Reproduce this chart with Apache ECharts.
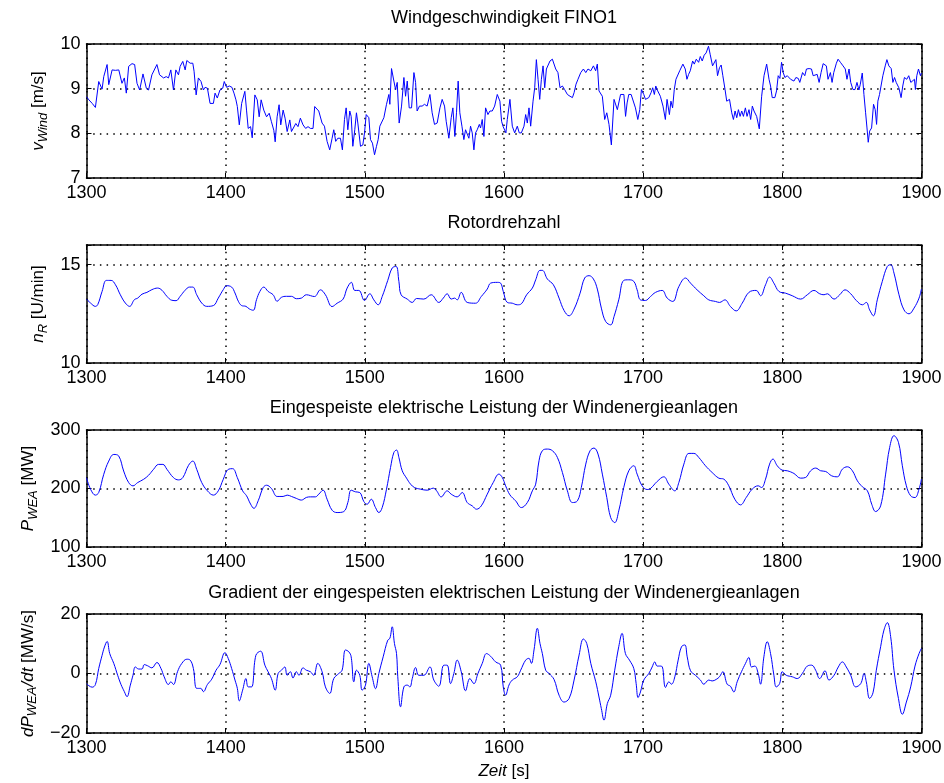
<!DOCTYPE html>
<html>
<head>
<meta charset="utf-8">
<script src="https://cdn.jsdelivr.net/npm/echarts@6/dist/echarts.min.js"></script>
<style>
  html, body { margin: 0; padding: 0; background: #fff; }
  #main { width: 944px; height: 783px; }
</style>
</head>
<body>
<div id="main"></div>
<script>
// Windgeschwindigkeit FINO1 [m/s]
const windTime = [
  1300.0,1301.7,1304.1,1306.4,1308.8,1311.2,1312.4,1314.8,1316.0,1318.4,
  1320.8,1323.2,1325.5,1327.2,1328.6,1330.3,1332.7,1334.6,1336.3,1338.2,
  1340.6,1343.0,1344.6,1347.0,1350.6,1352.5,1355.4,1357.3,1358.9,1360.6,
  1362.5,1364.2,1366.1,1367.3,1369.2,1370.9,1372.1,1374.5,1376.4,1377.3,
  1378.8,1380.4,1382.3,1384.0,1385.2,1386.9,1388.8,1391.2,1392.4,1394.0,
  1395.9,1397.9,1399.0,1400.7,1402.6,1404.5,1406.0,1407.4,1408.4,1409.8,
  1411.5,1413.8,1415.0,1416.2,1417.9,1419.1,1421.0,1422.7,1424.1,1425.5,
  1427.4,1429.4,1431.3,1432.9,1434.6,1435.6,1437.0,1438.4,1439.6,1441.3,
  1442.7,1444.2,1446.1,1447.3,1448.4,1450.4,1452.0,1453.7,1455.6,1457.5,
  1459.2,1460.9,1462.8,1464.0,
  1466.9,1469.3,1471.0,1472.9,1474.8,1476.5,1477.7,1479.1,1480.6,1482.5,
  1483.9,1485.4,1486.6,1487.8,1489.2,1490.2,1491.4,1492.8,1494.0,1495.0,
  1496.9,1498.6,1499.8,1501.0,1502.9,1504.1,1505.5,1507.0,1508.4,1509.6,
  1510.8,1512.0,1513.7,1515.6,1517.3,1518.0,1519.2,1520.9,1522.1,1523.3,
  1524.7,1526.4,1528.1,1529.3,1530.5,1531.9,1533.6,1535.3,1536.5,1537.6,
  1539.3,1541.2,1542.9,1544.8,1546.8,1548.4,1550.1,1552.0,1554.0,1555.6,
  1557.3,1558.5,1560.4,1562.1,1563.3,1564.7,1565.9,1567.1,1568.3,1569.8,
  1571.2,1572.4,1573.6,1574.8,1576.0,1577.2,1578.4,1579.6,1580.8,1582.3,
  1583.2,1584.4,1585.6,1586.8,1588.5,1589.9,1591.6,1593.3,1595.2,1597.1,
  1598.3,1599.3,1600.5,1601.4,1602.4,1604.3,1606.0,1607.7,1609.6,1611.0,
  1612.5,1614.4,1615.6,1616.8,1618.0,1619.2,1620.9,1622.1,1623.3,1624.5,
  1625.7,1626.9,1628.1,1629.3,1630.5,1631.7,1633.1,1634.8,1636.0,1637.2,
  1638.8,1640.3,1642.0,1643.6,1645.6,1647.5,1649.2,1650.4,1651.8,1653.2,
  1655.2,1657.1,1658.8,1660.4,1662.4,1664.3,1665.9,1667.1,1668.3,1670.7,
  1672.4,1673.9,1675.5,1677.2,1679.1,1681.5,
  1683.8,1686.2,1687.4,1688.5,1689.7,1691.4,1692.8,1694.5,1696.2,1697.6,
  1698.8,1700.5,1701.7,1704.1,1705.7,1706.9,1708.1,1709.1,1710.5,1712.4,
  1714.3,1716.0,1717.2,1718.9,1720.0,1721.2,1722.4,1723.6,1724.8,1726.3,
  1727.4,1728.6,1730.3,1731.5,1732.7,1733.9,1735.6,1736.8,1738.2,1739.9,
  1741.1,1742.5,1743.9,1745.3,1747.0,1748.2,1749.9,1751.1,1752.3,1753.5,
  1754.9,1756.1,1757.3,1758.9,1760.1,1762.1,1763.7,1764.9,1766.1,1767.3,
  1768.5,1769.7,1770.9,1772.1,1773.5,1774.7,1776.1,1777.3,1778.5,1779.7,
  1781.6,1783.5,1785.2,1786.9,1788.8,1790.5,1791.6,1792.8,1794.7,1795.9,
  1797.1,1798.3,1799.5,1800.7,1801.9,1803.6,1804.8,1806.0,1807.4,1808.4,
  1809.8,1811.5,1812.6,1814.6,1816.2,1817.4,1819.3,1821.0,1822.2,1823.4,
  1825.1,1826.5,1827.9,1829.4,1830.5,1831.7,1832.9,1834.6,1835.8,1837.0,
  1838.9,1840.1,1841.8,1843.7,1845.3,1846.5,1848.0,1849.2,1850.8,1852.3,
  1853.7,1855.1,1856.1,1857.5,1858.7,1859.9,1860.9,1861.8,1862.8,1864.2,
  1865.6,1866.8,1867.8,1868.7,1869.9,1871.1,1872.3,1874.0,1875.2,1876.6,
  1878.3,1879.5,1880.7,1881.9,1883.8,1885.4,1886.6,1887.8,1889.5,1890.9,
  1892.4,1893.8,1895.0,1895.7,1896.7,1897.9,1899.3,1900.0
];
const windSpeed = [
  8.82,8.75,8.67,8.58,9.16,8.99,9.27,9.54,9.09,9.42,
  9.41,9.42,9.12,9.24,8.90,9.50,9.56,9.54,9.12,8.97,
  9.33,9.01,8.97,9.31,9.54,9.31,9.24,9.27,9.24,9.42,
  8.97,9.42,9.31,9.50,9.61,9.42,9.63,9.57,9.57,9.39,
  8.86,9.24,9.16,8.97,9.03,9.01,8.67,8.67,8.90,8.79,
  8.97,9.01,9.16,9.03,9.06,9.03,8.90,8.75,8.60,8.19,
  8.67,8.94,8.52,8.11,8.15,7.90,8.86,8.75,8.37,8.75,
  8.52,8.37,8.45,8.26,8.07,7.81,8.37,8.64,8.19,8.52,
  8.34,8.04,8.30,8.04,8.07,8.22,8.15,8.34,8.19,8.11,
  8.15,8.11,8.11,8.60,
  8.50,8.23,8.16,7.82,7.63,7.89,8.08,7.82,7.89,7.89,
  7.63,8.31,8.57,8.08,8.50,8.38,7.71,8.08,8.46,8.23,
  7.71,7.74,8.01,8.42,8.35,7.86,7.78,7.52,7.71,7.86,
  8.16,8.12,8.35,8.65,8.87,8.65,9.45,9.17,8.98,9.14,
  8.23,8.61,9.25,8.83,9.17,8.57,8.57,9.36,9.14,8.50,
  8.61,8.61,8.65,8.61,8.87,8.46,8.20,8.23,8.57,8.76,
  8.61,8.27,7.89,8.35,8.57,7.93,8.46,9.17,8.46,8.16,
  7.86,8.08,8.08,7.89,8.16,8.01,7.63,8.01,8.08,8.20,
  8.12,8.31,7.93,8.57,8.42,8.50,8.50,8.61,8.87,8.72,
  8.27,8.16,8.20,8.01,8.31,8.76,8.16,8.01,8.16,8.01,
  8.01,8.16,8.42,8.23,8.57,8.16,8.72,9.02,9.65,9.21,
  8.76,9.21,9.51,9.02,9.44,9.40,9.62,9.66,9.62,9.44,
  9.36,9.02,9.06,8.98,8.87,8.83,8.80,8.91,9.10,9.21,
  9.36,9.44,9.36,9.44,9.40,9.51,9.40,9.55,8.95,8.83,
  8.31,8.46,8.20,7.74,8.76,8.53,
  8.87,8.87,8.38,8.68,8.87,8.87,8.91,8.57,8.31,8.53,
  8.98,8.87,8.76,8.80,8.91,9.02,8.87,9.06,8.95,8.83,
  8.61,8.31,8.76,8.42,8.72,8.57,8.98,9.21,9.25,9.40,
  9.36,9.55,9.44,9.21,9.32,9.40,9.62,9.55,9.66,9.59,
  9.72,9.62,9.75,9.80,9.95,9.77,9.51,9.50,9.65,9.29,
  9.47,9.53,9.29,8.98,8.72,8.76,8.46,8.31,8.50,8.35,
  8.53,8.38,8.50,8.38,8.57,8.38,8.53,8.31,8.61,8.50,
  8.38,8.10,8.83,9.29,9.55,9.21,9.06,8.80,8.80,8.95,
  9.29,9.23,9.59,9.36,9.25,9.29,9.29,9.21,9.25,9.17,
  9.25,9.23,9.14,9.36,9.29,9.44,9.45,9.44,9.29,9.32,
  9.32,9.14,9.36,9.56,9.56,9.51,9.21,9.36,9.14,9.36,
  9.57,9.66,9.59,9.51,9.44,9.21,9.44,9.14,8.98,8.98,
  9.14,8.97,9.10,9.35,8.87,8.46,8.12,7.80,8.05,8.12,
  8.65,8.53,8.20,8.72,8.87,8.91,9.29,9.51,9.65,9.51,
  9.45,9.14,9.25,9.14,9.02,8.80,9.06,9.25,9.21,9.29,
  9.14,9.17,9.21,8.98,9.29,9.44,9.29,9.35
];

// Rotordrehzahl [U/min]
const rpmTime = [
  1300.0,1302.9,1306.4,1308.1,1311.2,1314.3,1317.7,1320.8,1324.3,1327.9,
  1331.0,1334.4,1336.8,1339.9,1343.4,1347.0,1351.1,1354.2,1357.8,1361.3,
  1364.4,1367.3,1370.9,1374.0,1376.4,1379.2,1382.8,1386.4,1391.2,1394.7,
  1398.3,1400.7,1404.3,1406.7,1409.1,1411.5,1414.6,1417.0,1419.8,1422.2,
  1424.6,1427.4,1430.5,1434.1,1437.0,1440.1,1443.7,1447.3,1450.8,1454.4,
  1458.0,
  1463.8,1468.1,1471.7,1476.5,1480.1,1484.4,1487.3,1490.4,1492.8,1495.7,
  1499.8,1503.6,1506.5,1509.6,1512.5,1516.5,1519.7,1522.5,1524.5,1526.1,
  1530.5,1534.1,1537.2,1542.4,1547.7,1553.2,1556.4,1559.2,1562.1,1564.5,
  1566.4,1569.3,1573.6,1579.6,1583.7,1588.0,1590.4,1595.2,1597.6,1599.5,
  1602.4,1606.0,1609.6,1612.5,1616.3,1620.4,1622.8,1625.9,1627.6,1631.2,
  1635.5,1639.6,1643.2,1646.8,1650.4,1654.7,1658.0,1661.2,1664.3,1667.1,
  1670.0,1673.1,1676.7,1679.1,
  1682.5,1686.1,1689.7,1693.3,1695.7,1698.1,1701.7,1705.3,1708.9,1713.7,
  1717.3,1721.3,1725.7,1730.5,1734.1,1738.8,1743.6,1747.2,1752.0,1754.9,
  1758.8,1762.8,1766.9,1771.2,1776.0,1781.3,1784.4,1788.0,1790.9,1794.0,
  1797.6,1802.4,1807.2,1813.2,1818.0,1822.8,1826.9,1830.0,1832.4,1837.2,
  1841.3,1845.1,1849.2,1853.2,1857.6,1860.4,1862.8,1865.5,1868.3,1871.9,
  1875.5,1877.9,1880.3,1883.9,1887.5,1891.1,1894.7,1898.3,1900.0
];
const rpmValue = [
  13.25,13.05,12.88,12.97,13.64,14.20,14.20,13.98,13.47,13.05,
  12.88,13.22,13.30,13.50,13.59,13.73,13.81,13.70,13.39,13.19,
  13.17,13.39,13.70,13.86,13.86,13.47,13.05,12.88,12.92,13.30,
  13.73,13.93,13.86,13.56,13.14,12.92,12.88,12.75,12.68,13.22,
  13.64,13.86,13.64,13.47,13.14,13.34,13.39,13.39,13.27,13.30,
  13.47,
  13.38,13.72,13.47,12.87,13.04,13.25,13.81,14.10,13.69,13.69,
  13.18,13.52,13.21,12.96,13.38,14.20,14.83,14.91,14.15,13.47,
  13.25,13.08,13.28,13.25,13.47,13.08,13.30,13.52,13.25,13.30,
  13.21,13.59,13.08,13.04,13.38,13.76,14.06,14.10,14.06,13.64,
  13.08,13.04,12.96,13.01,13.47,13.81,14.23,14.71,14.71,14.27,
  13.98,13.30,12.67,12.40,12.74,13.55,14.32,14.44,14.27,13.76,
  12.79,12.11,11.94,12.36,
  13.21,14.20,14.23,14.15,13.72,13.21,13.18,13.38,13.59,13.69,
  13.30,13.13,13.89,14.32,14.06,13.72,13.42,13.21,13.13,13.08,
  13.21,12.87,12.65,13.04,13.59,13.69,13.42,13.98,14.37,14.06,
  13.64,13.55,13.42,13.25,13.47,13.69,13.52,13.47,13.52,13.25,
  13.47,13.72,13.52,13.18,12.96,13.08,12.70,12.40,13.21,14.15,
  14.91,15.00,14.57,13.47,12.70,12.50,12.79,13.30,13.76
];

// Eingespeiste elektrische Leistung [MW]
const powerTime = [
  1300.0,1302.9,1306.4,1308.8,1312.4,1316.0,1319.6,1323.2,1326.7,1330.3,
  1333.4,1336.8,1341.1,1344.6,1348.2,1351.8,1354.9,1357.8,1362.5,1366.1,
  1369.2,1373.3,1376.4,1379.2,1382.8,1386.9,1391.2,1394.7,1398.3,1401.9,
  1405.0,1408.4,1412.2,1415.0,1417.9,1420.3,1423.4,1427.0,1429.4,1432.9,
  1437.0,1441.3,1444.2,1447.3,1450.8,1454.4,1458.0,
  1460.9,1464.5,1466.9,1470.0,1472.9,1476.5,1480.1,1484.9,1487.8,1490.2,
  1493.3,1496.4,1499.3,1501.7,1504.6,1507.7,1510.1,1512.5,1515.6,1518.5,
  1520.9,1522.8,1524.5,1526.9,1530.0,1532.9,1535.7,1540.0,1544.8,1549.2,
  1551.6,1554.9,1559.2,1562.1,1566.4,1570.0,1573.6,1577.2,1580.3,1583.7,
  1588.0,1592.3,1596.4,1598.8,1601.2,1604.3,1608.4,1612.5,1616.8,1620.4,
  1622.8,1625.2,1627.6,1631.2,1634.8,1638.4,1642.0,1645.6,1649.2,1652.8,
  1655.6,1658.8,1661.9,1664.7,1667.6,1670.7,1673.9,1676.7,1679.6,
  1682.5,1686.1,1689.7,1693.3,1695.7,1699.3,1702.9,1705.3,1710.1,1714.9,
  1718.5,1722.8,1725.7,1729.3,1732.9,1736.5,1740.0,1744.8,1749.6,1754.4,
  1758.0,1761.6,1765.9,1770.0,1774.1,1778.4,1782.7,1785.1,1788.0,1790.9,
  1793.3,1796.4,1800.0,1803.6,1808.4,1813.2,1816.8,1820.4,1824.0,1827.6,
  1831.2,1835.5,1839.6,1843.2,1846.8,1850.4,1854.0,1857.6,1861.2,1864.3,
  1867.1,1870.7,1874.3,1877.2,1880.3,1883.5,1886.3,1889.2,1892.3,1895.4,
  1898.3,1900.0
];
const powerValue = [
  218.6,198.9,188.7,193.2,224.3,246.9,258.2,255.4,229.9,210.2,
  204.5,210.2,215.8,222.6,232.8,241.2,241.2,232.8,218.6,214.7,
  218.6,239.5,246.9,232.8,210.2,196.0,188.7,196.0,215.8,232.8,
  233.9,218.6,196.0,187.6,173.4,166.1,179.1,201.7,205.6,200.0,
  186.4,186.4,188.7,186.4,183.1,180.2,184.7,
  185.7,185.7,190.3,197.1,181.7,162.9,158.9,160.6,176.0,197.1,
  194.3,193.1,177.7,173.1,181.7,167.4,158.9,167.4,198.9,236.0,
  261.7,265.7,253.1,230.3,217.7,207.4,201.7,198.9,197.1,200.6,
  196.0,185.7,196.0,190.3,185.7,193.1,176.0,170.3,164.6,170.3,
  190.3,210.3,224.6,218.9,204.6,189.1,178.9,167.4,176.0,196.0,
  207.4,247.4,264.6,267.4,264.6,253.1,227.4,196.0,176.0,178.9,
  201.7,241.7,264.6,269.1,258.9,224.6,184.6,150.3,141.7,
  161.7,201.7,230.3,238.9,224.6,204.6,198.3,200.0,212.0,220.0,
  207.4,196.0,210.3,241.7,260.0,260.0,253.1,238.9,227.4,217.7,
  216.0,204.6,181.7,172.0,184.6,198.9,204.6,201.7,216.0,241.7,
  250.3,238.9,231.4,230.3,225.7,217.7,218.9,230.3,234.9,230.3,
  229.1,221.7,220.0,233.1,237.1,230.3,213.1,202.9,196.0,173.1,
  160.6,170.3,224.6,270.3,290.3,278.9,238.9,204.6,187.4,184.6,
  198.9,216.0
];

// Gradient der eingespeisten Leistung [MW/s]
const gradTime = [
  1300.0,1301.7,1304.1,1306.4,1308.8,1311.2,1312.9,1314.8,1316.7,1319.6,
  1322.4,1324.8,1327.2,1329.1,1331.5,1333.4,1335.1,1337.5,1339.9,1341.5,
  1343.9,1347.0,1350.6,1353.5,1355.8,1358.9,1360.6,1362.5,1365.4,1368.5,
  1372.1,1374.5,1376.8,1379.2,1382.1,1384.0,1386.9,1390.0,1393.1,1395.9,
  1399.5,1401.9,1404.3,1406.7,1408.4,1409.8,1412.2,1414.6,1416.2,1418.6,
  1421.7,1425.1,1428.2,1430.5,1432.9,1435.6,1437.7,1440.1,1442.5,1444.2,
  1446.5,1448.4,1450.8,1452.7,1455.6,1458.0,
  1460.9,1463.3,1466.2,1469.3,1471.7,1474.8,1477.7,1481.3,1483.7,1486.1,
  1488.5,1490.2,1492.1,1494.0,1496.4,1498.1,1500.5,1502.9,1505.3,1507.7,
  1510.1,1513.2,1516.5,1518.0,1519.7,1521.3,1522.8,1523.7,1525.7,1528.1,
  1530.5,1532.4,1534.1,1536.5,1538.8,1542.4,1546.8,1549.6,1553.2,1556.8,
  1559.2,1561.6,1564.0,1566.4,1569.3,1572.4,1575.5,1578.4,1581.3,1584.4,
  1587.5,1590.4,1594.0,1597.6,1599.5,1601.2,1603.6,1606.0,1609.6,1612.0,
  1615.6,1618.0,1619.7,1621.6,1624.0,1625.9,1627.6,1630.0,1632.4,1636.0,
  1639.6,1643.2,1646.8,1650.4,1654.0,1657.1,1659.5,1662.4,1666.0,1668.3,
  1670.0,1671.9,1674.3,1676.7,1679.6,
  1682.5,1684.9,1687.3,1690.2,1693.3,1695.0,1696.4,1698.1,1700.5,1704.1,
  1706.5,1708.4,1710.1,1713.2,1716.1,1718.5,1720.4,1722.8,1725.2,1727.6,
  1730.0,1731.7,1734.1,1737.6,1741.2,1743.6,1747.2,1749.6,1752.5,1754.9,
  1757.3,1760.4,1762.8,1765.2,1767.6,1770.7,1773.6,1776.0,1777.9,1780.3,
  1782.7,1784.4,1786.8,1789.2,1791.6,1794.0,1795.7,1798.1,1800.0,1802.9,
  1807.2,1810.8,1814.4,1818.0,1821.1,1824.0,1826.9,1830.7,1833.6,1837.2,
  1840.3,1843.2,1846.0,1849.2,1852.8,1856.4,1858.8,1860.4,1862.8,1865.2,
  1867.6,1870.7,1873.1,1875.5,1877.9,1880.3,1883.5,1886.3,1889.2,1892.3,
  1895.4,1898.3,1900.0
];
const gradValue = [
  -3.4,-4.1,-4.6,-3.7,1.7,6.1,8.9,10.8,6.7,3.4,
  -0.6,-3.7,-6.1,-7.8,-3.9,-0.6,2.2,1.5,1.5,3.0,
  2.6,1.9,3.7,1.7,-1.1,-3.7,-2.8,-3.7,0.6,3.4,
  4.8,4.5,1.7,-5.0,-5.0,-6.1,-3.7,-1.9,1.1,3.0,
  7.0,5.0,1.7,-2.2,-5.0,-9.2,-5.6,-1.7,-4.5,-4.5,
  6.1,7.5,2.8,0.6,-1.7,-5.6,0.0,1.1,2.2,-0.6,
  0.6,-1.5,0.6,-0.6,1.9,1.1,
  0.6,-0.6,3.4,0.6,-4.5,-6.7,-1.7,0.0,1.1,7.9,
  7.3,5.6,-2.8,1.1,-0.6,-5.6,-3.9,3.4,-1.1,-5.1,
  0.0,5.6,11.2,11.8,15.7,10.1,6.7,-1.1,-11.2,-4.5,
  -3.9,-4.5,-1.7,2.0,-0.6,-0.6,2.2,-2.2,-4.3,2.8,
  2.8,-3.4,0.0,4.5,0.6,-5.8,-1.7,-3.4,0.0,3.4,
  6.7,5.8,3.9,2.8,-4.5,-7.3,-3.9,-2.2,-1.1,1.1,
  4.5,5.1,3.4,7.9,15.2,10.1,6.7,1.1,0.0,-2.0,
  -7.3,-9.6,-8.4,-2.2,6.2,11.6,10.1,3.4,-2.8,-7.9,
  -11.8,-15.7,-10.1,-7.3,1.1,
  9.0,13.5,6.7,4.5,1.7,-3.4,-8.1,-6.2,-2.2,0.0,
  2.2,3.9,2.5,2.5,-4.7,-2.8,-3.6,-1.1,4.5,9.0,
  9.6,5.6,0.9,-0.6,-2.2,-3.6,-2.2,-2.5,-2.0,-1.1,
  0.6,-3.6,-4.3,-6.2,-2.8,0.6,3.4,5.4,2.2,2.5,
  0.0,-3.6,5.6,10.7,6.7,-0.6,-4.5,-3.4,0.6,-0.6,
  -1.1,-1.7,0.0,2.5,2.8,1.1,-1.7,0.9,-2.2,-0.6,
  2.2,3.9,2.2,-0.6,-4.5,-3.4,0.0,-2.8,-8.4,-6.5,
  1.1,9.0,14.6,17.1,12.4,1.1,-8.4,-13.7,-9.6,-4.5,
  2.5,6.7,8.4
];

const FONT = '"Liberation Sans", Arial, Helvetica, sans-serif';
const BLUE = '#0000ff';

function pairs(t, v) {
  return t.map((x, i) => [x, v[i]]);
}
function minus(v) {
  return String(v).replace('-', '\u2212');
}

const subStyle = {
  i: { fontStyle: 'italic', fontSize: 17, fontFamily: FONT, color: '#000' },
  s: { fontStyle: 'italic', fontSize: 13, fontFamily: FONT, color: '#000', padding: [9, 0, 0, 0] }
};

const panels = [
  { title: 'Windgeschwindigkeit FINO1', top: 44, height: 134, min: 7, max: 10, step: 1,
    ylabel: '{i|v}{s|Wind} [m/s]', ygap: 36, tgap: 17, t: windTime, v: windSpeed, smooth: false },
  { title: 'Rotordrehzahl', top: 245, height: 118, min: 10, max: 16, step: 5,
    ylabel: '{i|n}{s|R} [U/min]', ygap: 36, tgap: 13, t: rpmTime, v: rpmValue, smooth: 0.4 },
  { title: 'Eingespeiste elektrische Leistung der Windenergieanlagen', top: 430, height: 117, min: 100, max: 300, step: 100,
    ylabel: '{i|P}{s|WEA} [MW]', ygap: 46, tgap: 13, t: powerTime, v: powerValue, smooth: 0.4 },
  { title: 'Gradient der eingespeisten elektrischen Leistung der Windenergieanlagen', top: 614, height: 119, min: -20, max: 20, step: 20,
    ylabel: '{i|dP}{s|WEA}{i|/dt} [MW/s]', ygap: 46, tgap: 12, t: gradTime, v: gradValue, smooth: 0.4 }
];

const dotted = { color: '#000', width: 1.5, type: [1.5, 5.2] };
const frame = { show: true, onZero: false, lineStyle: { color: '#000', width: 1.5 } };
const tick = { show: true, inside: true, length: 5, lineStyle: { color: '#000', width: 1 } };

const grid = [], xAxis = [], yAxis = [], series = [];
panels.forEach((p, k) => {
  grid.push({ left: 86.5, right: 22.6, top: p.top, height: p.height, containLabel: false, outerBoundsMode: 'none' });
  xAxis.push({
    type: 'value', gridIndex: k, position: 'bottom', min: 1300, max: 1900, interval: 100,
    axisLine: frame, axisTick: tick,
    axisLabel: { color: '#000', fontSize: 18, fontFamily: FONT, margin: 6, formatter: v => String(v) },
    splitLine: { show: true, lineStyle: dotted },
    name: k === 3 ? '{i|Zeit} [s]' : '', nameLocation: 'middle', nameGap: 30,
    nameTextStyle: { color: '#000', fontSize: 17, fontFamily: FONT, rich: subStyle }
  });
  xAxis.push({
    type: 'value', gridIndex: k, position: 'top', min: 1300, max: 1900, interval: 100,
    axisLine: frame, axisTick: tick, axisLabel: { show: false }, splitLine: { show: false },
    name: p.title, nameLocation: 'middle', nameGap: p.tgap,
    nameTextStyle: { color: '#000', fontSize: 18, fontFamily: FONT }
  });
  yAxis.push({
    type: 'value', gridIndex: k, position: 'left', min: p.min, max: p.max, interval: p.step,
    axisLine: frame, axisTick: tick,
    axisLabel: {
      color: '#000', fontSize: 18, fontFamily: FONT, margin: 6,
      formatter: v => (k === 1 && v === 16) ? '' : minus(v)
    },
    splitLine: { show: true, lineStyle: dotted },
    name: p.ylabel, nameLocation: 'middle', nameRotate: 90, nameGap: p.ygap,
    nameTextStyle: { color: '#000', fontSize: 17, fontFamily: FONT, rich: subStyle }
  });
  yAxis.push({
    type: 'value', gridIndex: k, position: 'right', min: p.min, max: p.max, interval: p.step,
    axisLine: frame, axisTick: tick, axisLabel: { show: false }, splitLine: { show: false }
  });
  series.push({
    type: 'line', xAxisIndex: 2 * k, yAxisIndex: 2 * k,
    data: pairs(p.t, p.v), showSymbol: false, symbol: 'none',
    smooth: p.smooth, silent: true,
    lineStyle: { color: BLUE, width: 1 }
  });
});

const chart = echarts.init(document.getElementById('main'), null, { renderer: 'canvas' });
chart.setOption({
  animation: false,
  backgroundColor: '#fff',
  textStyle: { fontFamily: FONT },
  grid, xAxis, yAxis, series
});
</script>
</body>
</html>
